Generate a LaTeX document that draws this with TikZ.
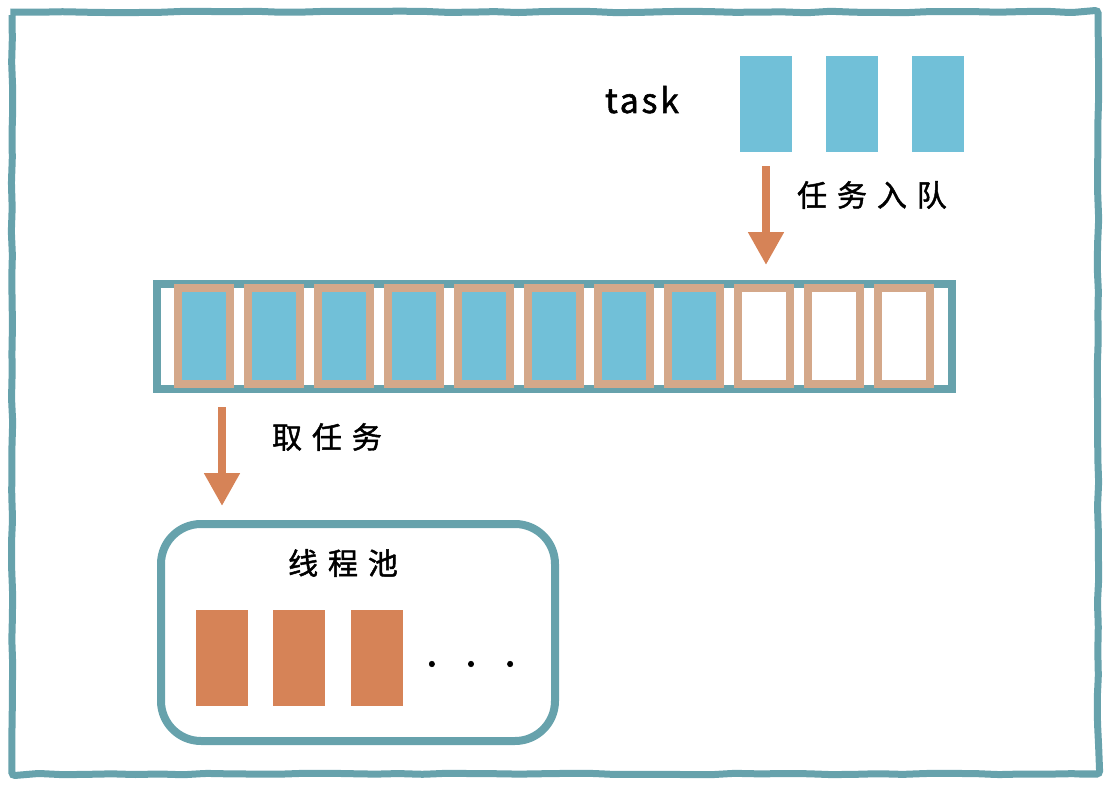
\documentclass[tikz,border=0pt]{standalone}
\usepackage{fontspec}
\usetikzlibrary{arrows.meta,decorations.pathmorphing}
\newfontfamily\cjk[LetterSpace=33,FakeBold=1.5]{Noto Sans CJK SC}
\newfontfamily\hand[LetterSpace=8,FakeBold=1.5]{Noto Sans CJK SC}
\definecolor{frameteal}{RGB}{103,162,172}
\definecolor{taskblue}{RGB}{113,192,216}
\definecolor{slottan}{RGB}{212,168,138}
\definecolor{workorange}{RGB}{214,131,87}
\tikzstyle{bluenode}=[rectangle, fill=taskblue, inner sep=0, minimum width=52, minimum height=96]
\tikzstyle{slotnode}=[rectangle, draw=slottan, line width=8, inner sep=0, minimum width=52, minimum height=96]
\tikzstyle{fullslot}=[slotnode, fill=taskblue]
\tikzstyle{orangenode}=[rectangle, fill=workorange, inner sep=0, minimum width=52, minimum height=96]
\tikzstyle{tealline}=[draw=frameteal, line width=8]
\tikzstyle{orangearrow}=[workorange, line width=8, -{Triangle[width=34pt,length=33pt]}]
\tikzstyle{cjklabel}=[inner sep=0, font=\cjk\fontsize{30}{30}\selectfont]

\begin{document}
\begin{tikzpicture}[x=1pt, y=-1pt]
      \useasboundingbox (0,0) rectangle (1112,792);
      % outer frame
      \draw[frameteal, line width=7, rounded corners=3,
        decorate, decoration={random steps, segment length=24, amplitude=0.8}]
        (12,12) rectangle (1098,774);
      % tasks waiting
      \node[inner sep=0, anchor=base, font=\hand\fontsize{34}{34}\selectfont] (L1) at (642,113) {task};
      \node[bluenode] (T1) at (766,104) {};
      \node[bluenode] (T2) at (852,104) {};
      \node[bluenode] (T3) at (938,104) {};
      % queue
      \node[tealline, rectangle, inner sep=0, minimum width=795, minimum height=105] (Q) at (554.5,336.5) {};
      \node[fullslot] (Q1) at (204,336) {};
      \node[fullslot] (Q2) at (274,336) {};
      \node[fullslot] (Q3) at (344,336) {};
      \node[fullslot] (Q4) at (414,336) {};
      \node[fullslot] (Q5) at (484,336) {};
      \node[fullslot] (Q6) at (554,336) {};
      \node[fullslot] (Q7) at (624,336) {};
      \node[fullslot] (Q8) at (694,336) {};
      \node[slotnode] (Q9) at (764,336) {};
      \node[slotnode] (Q10) at (834,336) {};
      \node[slotnode] (Q11) at (904,336) {};
      % thread pool
      \node[tealline, rectangle, rounded corners=40, inner sep=0, minimum width=394, minimum height=217] (P) at (358,632.5) {};
      \node[cjklabel] (L4) at (343,563) {线程池};
      \node[orangenode] (P1) at (222,658) {};
      \node[orangenode] (P2) at (299,658) {};
      \node[orangenode] (P3) at (376.5,658) {};
      \node[inner sep=0, font=\hand\fontsize{40}{40}\selectfont] (D) at (471,664) {.\hspace{28pt}.\hspace{28pt}.};
      % arrows
      \coordinate (A1) at (766,166);
      \coordinate (A2) at (766,265);
      \coordinate (B1) at (222,407);
      \coordinate (B2) at (222,506);
      \draw[orangearrow] (A1) -- (A2);
      \draw[orangearrow] (B1) -- (B2);
      \node[cjklabel] (L2) at (872,195) {任务入队};
      \node[cjklabel] (L3) at (327,437) {取任务};
    \end{tikzpicture}
\end{document}
